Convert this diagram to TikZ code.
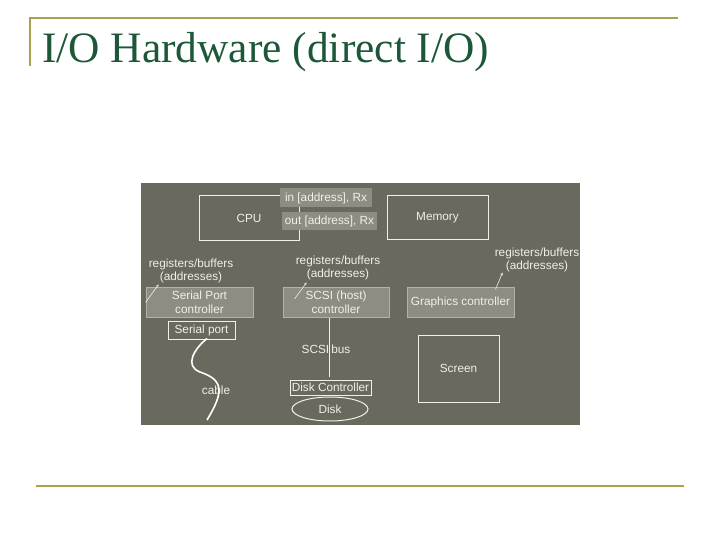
\documentclass[tikz,border=0pt]{standalone}
\usepackage{fontspec}
\setmainfont{Liberation Serif}
\newfontfamily\diagfont{Liberation Sans}
\usetikzlibrary{shapes.geometric,arrows.meta,calc}
\definecolor{titlegreen}{RGB}{28,88,56}
\definecolor{rulegold}{RGB}{170,160,82}
\definecolor{panelgrey}{RGB}{105,105,94}
\definecolor{boxgrey}{RGB}{141,141,129}
\definecolor{boxedge}{RGB}{178,178,166}
\definecolor{chalk}{RGB}{240,240,234}
\tikzset{
  hwtext/.style={text=chalk,font=\diagfont\fontsize{11.8}{13.5}\selectfont,align=center,inner sep=0pt},
  hwbox/.style={hwtext,draw=chalk,line width=1pt,fill=panelgrey},
  hwfilled/.style={hwtext,draw=boxedge,line width=1pt,fill=boxgrey},
  hwop/.style={hwtext,fill=boxgrey},
  hwlink/.style={chalk,line width=0.6pt,-{Stealth[length=3pt,width=2.6pt]}},
}
\begin{document}
\begin{tikzpicture}[x=1pt,y=-1pt]
  \useasboundingbox[fill=white] (0,0) rectangle (720,540);
  % slide frame
  \draw[rulegold,line width=2.6pt] (30,66) -- (30,18) -- (678,18);
  \draw[rulegold,line width=2.6pt] (36,486) -- (684,486);
  \node[anchor=base west,inner sep=0pt,text=titlegreen,font=\fontsize{43.4}{48}\selectfont]
    (title) at (42,63) {I/O Hardware (direct I/O)};

  % the picture
  \fill[panelgrey] (141,183) rectangle (580,425);

  \node[hwbox,minimum width=100,minimum height=44] (cpu) at (249,218) {CPU};
  \node[hwbox,minimum width=101,minimum height=43] (mem) at (437.5,217.5) {Memory};
  \node[hwop,minimum width=92,minimum height=19] (inop) at (326,198) {in [address], Rx};
  \node[hwop,minimum width=95,minimum height=18] (outop) at (329.5,221.5) {out [address], Rx};

  \node[hwfilled,minimum width=107,minimum height=30] (spc) at (199.5,302.5) {Serial Port\\controller};
  \node[hwfilled,minimum width=106,minimum height=30] (scsi) at (336,302.5) {SCSI (host)\\controller};
  \node[hwfilled,minimum width=107,minimum height=30] (gfx) at (460.5,302) {Graphics controller};

  \node[hwtext] (regl) at (191,271) {registers/buffers\\(addresses)};
  \node[hwtext] (regm) at (338,268) {registers/buffers\\(addresses)};
  \node[hwtext] (regr) at (537,260) {registers/buffers\\(addresses)};

  \node[hwbox,minimum width=67,minimum height=18] (sport) at (201.5,330) {Serial port};
  \node[hwbox,minimum width=81,minimum height=15] (dctl) at (330.5,387.5) {Disk Controller};
  \node[hwbox,ellipse,minimum width=76,minimum height=24] (disk) at (330,409) {Disk};
  \node[hwbox,minimum width=81,minimum height=67] (screen) at (458.5,368.5) {Screen};

  \node[hwtext] (bus) at (326,349) {SCSI\hspace{2pt}bus};
  \node[hwtext] (cable) at (216,390) {cable};

  % links
  \draw[hwlink] (spc.west) -- ($(regl.south west)+(10,1)$);
  \draw[hwlink] ($(scsi.north west)+(12,12)$) -- ($(regm.south west)+(11,2)$);
  \draw[hwlink] ($(gfx.north east)+(-19,3)$) -- ($(regr.south west)+(8,0)$);
  \draw[chalk,line width=1pt] ($(scsi.south)+(-7,0)$) -- ($(dctl.north)+(-1.5,-3)$);
  \coordinate (cableend) at (207,420);
  \draw[white,line width=1.6pt] ($(sport.south)+(5.5,-1)$)
    .. controls (194,349) and (184,366) .. (200,372)
    .. controls (224,380) and (224,392) .. (cableend);
\end{tikzpicture}
\end{document}
